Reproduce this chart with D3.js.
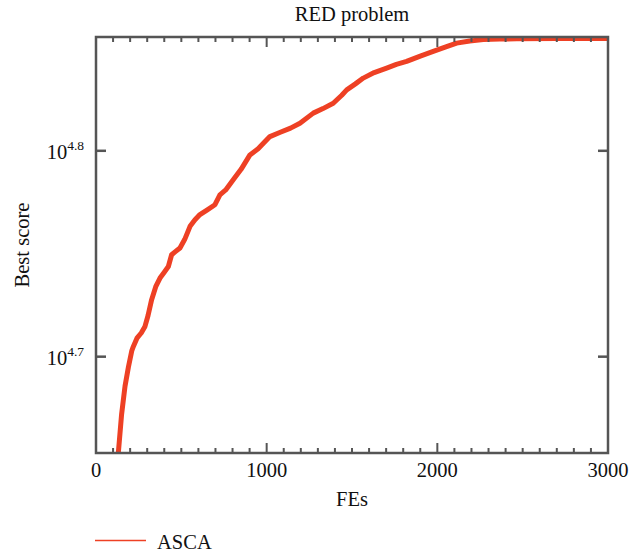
<!DOCTYPE html>
<html>
<head>
<meta charset="utf-8">
<script src="https://cdn.jsdelivr.net/npm/d3@7"></script>
<style>
  html, body { margin: 0; padding: 0; background: #fff; }
  svg { display: block; }
  text { font-family: "Liberation Serif", "DejaVu Serif", serif; fill: #111; }
</style>
</head>
<body>
<svg id="chart" width="629" height="556"></svg>
<script>
// Convergence history of ASCA on the RED problem
const fes = [115, 131, 150, 170, 190, 210, 219, 240, 265, 287, 305, 326, 350, 375, 400, 424, 443, 465, 492, 520,
             551, 580, 609, 650, 697, 726, 760, 804, 850, 902, 950, 985, 1019, 1080, 1140, 1195, 1273, 1330, 1390, 1440,
             1469, 1520, 1566, 1630, 1703, 1760, 1820, 1900, 1976, 2050, 2113, 2190, 2269, 2365, 2465, 2700, 3000];
const bestScore = [44463, 45019, 46989, 48485, 49545, 50466, 50699, 51168, 51464, 51845, 52481, 53420, 54200, 54727, 55081, 55437, 56169, 56364, 56598, 57148,
                   57984, 58413, 58750, 59049, 59403, 60064, 60395, 61081, 61802, 62806, 63241, 63680, 64107, 64417, 64714, 65073, 65811, 66145, 66542, 67143,
                   67546, 68000, 68440, 68865, 69215, 69502, 69727, 70146, 70518, 70876, 71170, 71334, 71450, 71499, 71516, 71532, 71532];
const xTicks = [0, 1000, 2000, 3000];
const xMinorTicks = d3.range(0, 3001, 100);
const yTickExponents = [4.7, 4.8];
const seriesName = "ASCA";
const titleText = "RED problem";
const xLabel = "FEs";
const yLabel = "Best score";

const svg = d3.select("#chart");
const m = { left: 96, right: 608, top: 37, bottom: 453 };
const axisColor = "#555";
const lineColor = "#ee4024";
const fontSize = 20.5;

const x = d3.scaleLinear().domain([0, 3000]).range([m.left, m.right]);
const y = d3.scaleLog().domain([45000, 71660]).range([m.bottom, m.top]);

svg.append("defs").append("clipPath").attr("id", "plotClip")
  .append("rect").attr("x", m.left).attr("y", m.top)
  .attr("width", m.right - m.left).attr("height", m.bottom - m.top);

// curve
const data = fes.map((f, i) => ({ f, v: bestScore[i] }));
const line = d3.line().x(d => x(d.f)).y(d => y(d.v));
svg.append("path").datum(data)
  .attr("clip-path", "url(#plotClip)")
  .attr("d", line)
  .attr("fill", "none")
  .attr("stroke", lineColor)
  .attr("stroke-width", 5)
  .attr("stroke-linejoin", "round");

// frame
svg.append("rect")
  .attr("x", m.left).attr("y", m.top)
  .attr("width", m.right - m.left).attr("height", m.bottom - m.top)
  .attr("fill", "none").attr("stroke", axisColor).attr("stroke-width", 2.5);

// inward ticks (bottom and top)
function hTicks(yPos, dir) {
  svg.append("g").selectAll("line").data(xMinorTicks).join("line")
    .attr("x1", d => x(d)).attr("x2", d => x(d))
    .attr("y1", yPos)
    .attr("y2", d => yPos + dir * (d % 1000 === 0 ? 10 : 5))
    .attr("stroke", axisColor).attr("stroke-width", 2);
}
hTicks(m.bottom, -1);
hTicks(m.top, 1);

// y ticks on both sides
const yTickVals = yTickExponents.map(e => Math.pow(10, e));
[[m.left, 1], [m.right, -1]].forEach(([xp, dir]) => {
  svg.append("g").selectAll("line").data(yTickVals).join("line")
    .attr("x1", xp).attr("x2", xp + dir * 10)
    .attr("y1", d => y(d)).attr("y2", d => y(d))
    .attr("stroke", axisColor).attr("stroke-width", 2.5);
});

// x tick labels
svg.append("g").selectAll("text").data(xTicks).join("text")
  .attr("x", d => x(d)).attr("y", m.bottom + 24)
  .attr("text-anchor", "middle").attr("font-size", fontSize)
  .text(d => d);

// y tick labels with superscript exponents
const yl = svg.append("g").selectAll("text").data(yTickExponents).join("text")
  .attr("x", m.left - 12).attr("y", e => y(Math.pow(10, e)) + 8)
  .attr("text-anchor", "end").attr("font-size", fontSize);
yl.append("tspan").text("10");
yl.append("tspan").attr("font-size", 13.5).attr("dy", -9).text(e => e.toFixed(1));

// title and axis labels
svg.append("text").attr("x", (m.left + m.right) / 2).attr("y", 21)
  .attr("text-anchor", "middle").attr("font-size", fontSize).text(titleText);
svg.append("text").attr("x", (m.left + m.right) / 2).attr("y", 506)
  .attr("text-anchor", "middle").attr("font-size", fontSize).text(xLabel);
svg.append("text")
  .attr("transform", `translate(29,${(m.top + m.bottom) / 2}) rotate(-90)`)
  .attr("text-anchor", "middle").attr("font-size", fontSize).text(yLabel);

// legend
svg.append("line").attr("x1", 95).attr("x2", 146).attr("y1", 540.5).attr("y2", 540.5)
  .attr("stroke", lineColor).attr("stroke-width", 1.5);
svg.append("text").attr("x", 157).attr("y", 548.5).attr("font-size", fontSize).text(seriesName);
</script>
</body>
</html>
